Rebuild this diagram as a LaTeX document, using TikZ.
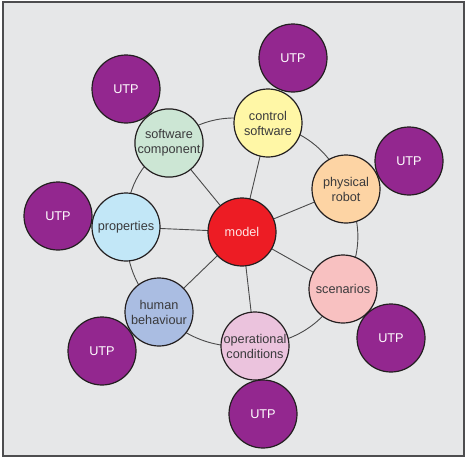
\documentclass[tikz,border=0pt]{standalone}
\usepackage{fontspec}
\setmainfont{Liberation Sans}
\definecolor{panel}{HTML}{E6E7E8}
\definecolor{frameline}{HTML}{4D4D4F}
\definecolor{edge}{HTML}{4A4A4A}
\definecolor{rim}{HTML}{231F20}
\definecolor{txt}{HTML}{3A3A3C}
\definecolor{utpfill}{HTML}{93278F}
\definecolor{modelfill}{HTML}{ED1C24}
\definecolor{ctrlfill}{HTML}{FFF7A6}
\definecolor{swfill}{HTML}{CCE6D4}
\definecolor{robotfill}{HTML}{FDD4A4}
\definecolor{propfill}{HTML}{C2E7F7}
\definecolor{scenfill}{HTML}{F8C1C1}
\definecolor{humanfill}{HTML}{AABDE2}
\definecolor{opfill}{HTML}{EBC3DD}
\pgfdeclarelayer{panellayer}
\pgfdeclarelayer{edgelayer}
\pgfsetlayers{panellayer,edgelayer,main}
\tikzset{
  bubble/.style={circle, draw=rim, line width=1.2pt, minimum size=68pt,
    inner sep=0pt, align=center, text=txt,
    font=\fontsize{12.7}{15}\selectfont},
  utp/.style={bubble, fill=utpfill, text=white},
  link/.style={draw=edge, line width=0.9pt},
}
\begin{document}
\begin{tikzpicture}[x=1pt,y=-1pt]
  \useasboundingbox (0,0) rectangle (466,458);
  \begin{pgfonlayer}{panellayer}
    \draw[fill=panel, draw=frameline, line width=1.2pt] (3,2) rectangle (464,456);
  \end{pgfonlayer}

  % outer satellites
  \node[utp] (u1) at (293,58)  {UTP};
  \node[utp] (u2) at (126,89)  {UTP};
  \node[utp] (u3) at (409,161) {UTP};
  \node[utp] (u4) at (58,216)  {UTP};
  \node[utp] (u5) at (391,338) {UTP};
  \node[utp] (u6) at (102,351) {UTP};
  \node[utp] (u7) at (263,414) {UTP};

  % ring of aspects around the model
  \node[bubble, fill=ctrlfill]  (ctrl)  at (268,123) {control\\software};
  \node[bubble, fill=swfill]    (sw)    at (169,143) {software\\component};
  \node[bubble, fill=robotfill] (robot) at (346,189) {physical\\robot};
  \node[bubble, fill=propfill]  (prop)  at (126,227) {properties};
  \node[bubble, fill=scenfill]  (scen)  at (343,289) {scenarios};
  \node[bubble, fill=humanfill] (human) at (159,312) {human\\behaviour};
  \node[bubble, fill=opfill]    (op)    at (255,346) {operational\\conditions};
  \node[bubble, fill=modelfill, text=white!90!red] (model) at (242,232) {model};

  % connectors drawn behind the bubbles
  \begin{pgfonlayer}{edgelayer}
    \foreach \n in {ctrl,sw,robot,prop,scen,human,op}
      \draw[link] (model.center) -- (\n.center);
    \draw[link] (ctrl.center) to[bend left=27] (robot.center)
                to[bend left=27] (scen.center)
                to[bend left=27] (op.center)
                to[bend left=24] (human.center)
                to[bend left=22] (prop.center)
                to[bend left=27] (sw.center)
                to[bend left=27] (ctrl.center);
  \end{pgfonlayer}
\end{tikzpicture}
\end{document}
